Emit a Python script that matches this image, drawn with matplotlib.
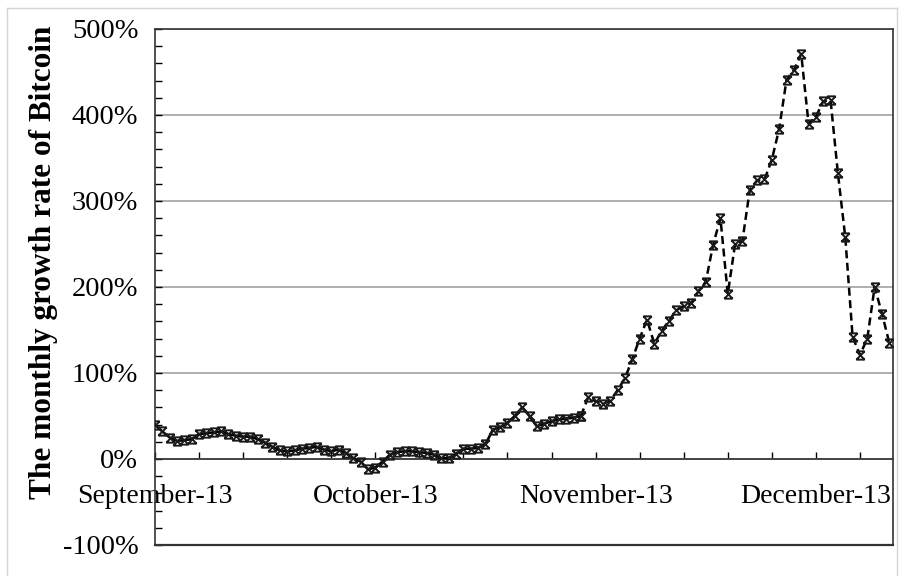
import matplotlib
matplotlib.use("Agg")
import matplotlib.pyplot as plt
from matplotlib.path import Path
from matplotlib.lines import Line2D

# ---- data (daily points, Sept-13 .. Dec-13) ----
growth_pct = [40, 32, 25, 21, 22, 23, 29, 30, 31, 32,
              29, 27, 26, 26, 23, 19, 14, 10, 9, 10,
              12, 13, 14, 11, 9, 11, 7, 1, -3, -12,
              -10, -3, 5, 8, 9, 9, 8, 7, 5, 1,
              1, 6, 12, 12, 13, 17, 34, 37, 42, 50,
              60, 50, 38, 41, 44, 46, 47, 48, 50, 72,
              67, 64, 68, 80, 94, 116, 140, 162, 134, 149,
              161, 173, 178, 181, 195, 206, 249, 280, 192, 250,
              254, 313, 324, 325, 348, 384, 441, 452, 471, 390,
              398, 416, 417, 332, 258, 142, 121, 140, 200, 169,
              135]
solid_end = 58            # last index drawn with the solid line
month_labels = ["September-13", "October-13", "November-13", "December-13"]
month_every = 30
tick_every = 6
y_ticks = [-100, 0, 100, 200, 300, 400, 500]
ylabel = "The monthly growth rate of Bitcoin"

plt.rcParams['font.family'] = ['Liberation Serif', 'DejaVu Serif']

W, H = 901, 576
fig = plt.figure(figsize=(W / 100, H / 100), dpi=100)
L, R, T, B = 155, 893, 29, 545
ax = fig.add_axes([L / W, 1 - B / H, (R - L) / W, (B - T) / H])

# marker: X with bars on top and bottom
verts = [(-1, -1), (1, 1), (-1, 1), (1, -1), (-1, 1), (1, 1), (-1, -1), (1, -1)]
codes = [Path.MOVETO, Path.LINETO] * 4
mk = Path(verts, codes)

xs = list(range(len(growth_pct)))
ax.plot(xs[:solid_end + 1], growth_pct[:solid_end + 1], color='black', lw=1.9,
        marker=mk, ms=6, mew=1.4, mec='#1a1a1a', zorder=3)
ax.plot(xs[solid_end:], growth_pct[solid_end:], color='black', lw=1.8,
        dashes=(3.2, 1.8), marker=mk, ms=6, mew=1.4, mec='#1a1a1a', zorder=3)

ax.set_xlim(0, len(growth_pct) - 1 + 0.5)
ax.set_ylim(-100, 500)

# y axis
ax.set_yticks(y_ticks)
ax.set_yticklabels([f"{v}%" for v in y_ticks])
ax.set_yticks(range(-100, 501, 20), minor=True)
ax.tick_params(axis='y', which='both', direction='in', length=5, width=1.0,
               labelsize=20.5, pad=12, colors='black')
ax.yaxis.grid(True, which='major', color='#a8a8a8', lw=1.3)
ax.set_axisbelow(True)

# x axis on the zero line
ax.spines['bottom'].set_position(('data', 0))
xt = list(range(0, len(growth_pct), tick_every))
ax.set_xticks(xt)
ax.set_xticklabels([month_labels[i // month_every] if i % month_every == 0 else ''
                    for i in xt])
ax.tick_params(axis='x', which='both', direction='in', length=5, width=1.0,
               labelsize=20, pad=18, colors='black')

for s in ax.spines.values():
    s.set_color('#333333')
    s.set_linewidth(1.2)
ax.axhline(-100, color='#333333', lw=1.6, clip_on=False, zorder=5)

ax.set_ylabel(ylabel, fontsize=22.5, fontweight='bold')
ax.yaxis.set_label_coords((58 - L) / (R - L), (B - 262) / (B - T))

# outer chart border
c = '#d4d4d4'
fig.add_artist(Line2D([7 / W, 897 / W], [1 - 8 / H, 1 - 8 / H], color=c, lw=1.0))
fig.add_artist(Line2D([7 / W, 7 / W], [0, 1 - 8 / H], color=c, lw=1.0))
fig.add_artist(Line2D([897 / W, 897 / W], [0, 1 - 8 / H], color=c, lw=1.0))

fig.savefig("out.png", dpi=100)
